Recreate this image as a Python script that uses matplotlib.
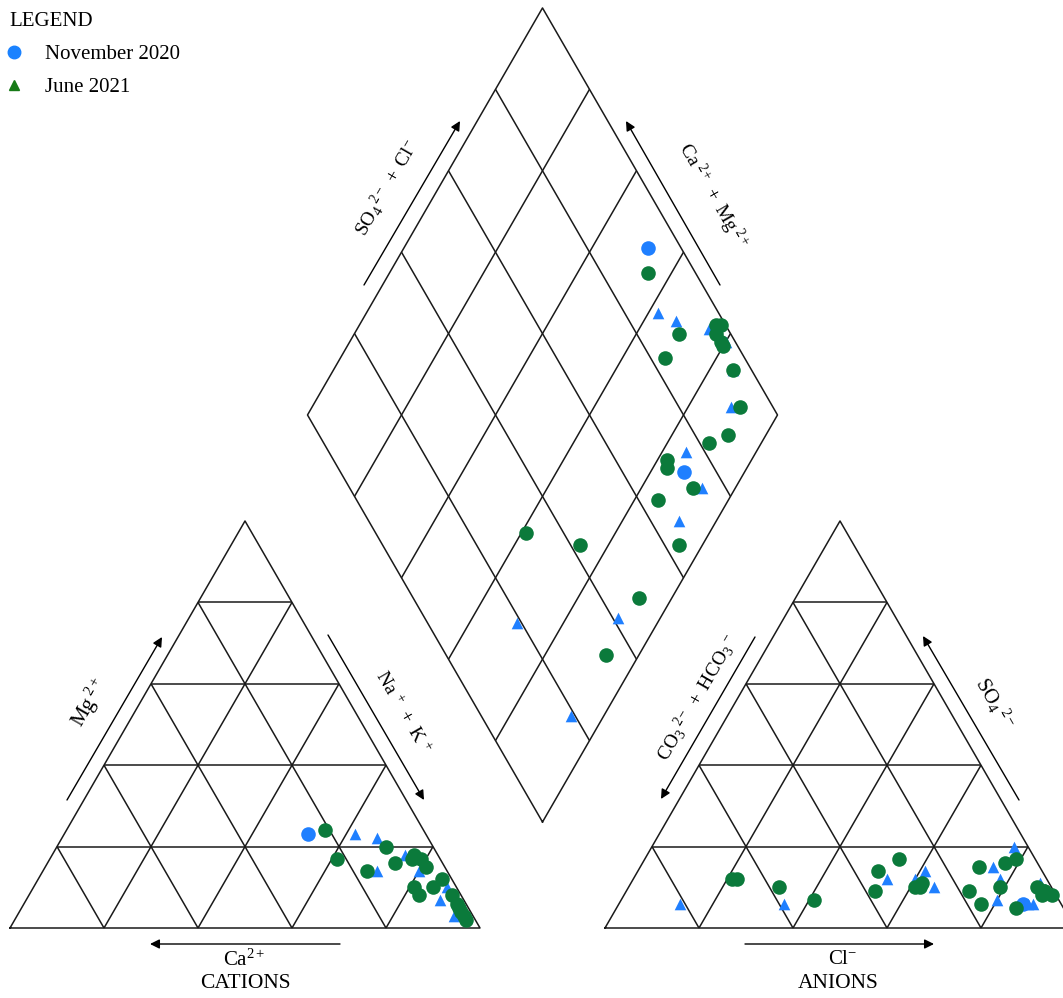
import matplotlib
matplotlib.use("Agg")
import matplotlib.pyplot as plt
from matplotlib.lines import Line2D
import numpy as np

plt.rcParams['font.family'] = ['Liberation Serif', 'DejaVu Serif']
plt.rcParams['mathtext.fontset'] = 'custom'
plt.rcParams['mathtext.rm'] = 'Liberation Serif'
plt.rcParams['mathtext.it'] = 'Liberation Serif:italic'

# ---------------- data (percent) ----------------
# Cation triangle: (Na+K %, Mg %)
cat_blue_tri_na = [62, 67, 71, 75, 80, 88, 88, 93]
cat_blue_tri_mg = [23, 22, 14, 18, 14, 10, 7, 3]
cat_blue_circ_na = [52]
cat_blue_circ_mg = [23]
cat_green_na = [55, 61, 70, 69, 74, 77, 77, 79, 81, 81, 83, 86, 85, 90, 92, 94, 95, 96, 93]
cat_green_mg = [24, 17, 20, 14, 16, 18, 17, 17, 15, 10, 8, 12, 10, 8, 6, 4, 3, 2, 5]

# Anion triangle: (Cl %, SO4 %)
an_blue_tri_cl = [13, 35, 54, 61, 65, 60, 77, 75, 78, 80, 87, 87, 88]
an_blue_tri_so4 = [6, 6, 12, 14, 10, 12, 20, 15, 12, 7, 11, 6, 6]
an_blue_circ_cl = [86]
an_blue_circ_so4 = [6]
an_green_cl = [21, 22, 32, 41, 51, 54, 53, 61, 62, 62, 72, 73, 77, 79, 77, 79, 85, 87, 89, 91, 89, 89]
an_green_so4 = [12, 12, 10, 7, 14, 17, 9, 10, 10, 11, 15, 9, 6, 10, 16, 17, 5, 10, 9, 8, 9, 8]

# Diamond: (SO4+Cl %, Ca+Mg %)
dia_blue_tri_s = [87, 90, 96, 91, 96, 76, 75, 66, 41, 19, 19, 98]
dia_blue_tri_a = [38, 33, 25, 11, 15, 15, 7, 8, 9, 30, 7, 20]
dia_blue_circ_s = [93, 73]
dia_blue_circ_a = [48, 13]
dia_green_s = [90, 89, 83, 98, 99, 97, 97, 97, 96, 93, 82, 87, 71, 70, 73, 64, 63, 32, 42, 48, 34]
dia_green_a = [45, 31, 31, 24, 23, 23, 21, 20, 15, 9, 11, 8, 18, 17, 9, 15, 5, 39, 26, 7, 7]

legend_labels = ['November 2020', 'June 2021']

# ---------------- geometry ----------------
L = 470.0
H = L * np.sqrt(3) / 2
Y0 = 928.0
XL = 10.0      # left (cation) triangle origin
XR = 605.0     # right (anion) triangle origin
DX, DY = 542.5, 822.0  # diamond bottom vertex


def cat_xy(na, mg):
    na = np.asarray(na) / 100.0
    mg = np.asarray(mg) / 100.0
    return XL + L * (na + mg / 2), Y0 - H * mg


def an_xy(cl, so4):
    cl = np.asarray(cl) / 100.0
    so4 = np.asarray(so4) / 100.0
    return XR + L * (cl + so4 / 2), Y0 - H * so4


def dia_xy(s, a):
    s = np.asarray(s) / 100.0
    a = np.asarray(a) / 100.0
    return DX + (L / 2) * (s - a), DY - H * (s + a)


fig = plt.figure(figsize=(10.63, 9.98), dpi=100)
ax = fig.add_axes([0, 0, 1, 1])
ax.set_xlim(0, 1063)
ax.set_ylim(998, 0)
ax.axis('off')

lc = '#1a1a1a'
lw = 1.1


def seg(p, q):
    ax.plot([p[0], q[0]], [p[1], q[1]], color=lc, lw=lw, solid_capstyle='butt', zorder=1)


# triangles
for f_xy in (cat_xy, an_xy):
    pts = [f_xy(0, 0), f_xy(100, 0), f_xy(0, 100), f_xy(0, 0)]
    ax.plot([p[0] for p in pts], [p[1] for p in pts], color=lc, lw=lw, zorder=1)
    for k in range(1, 5):
        f = k * 20
        seg(f_xy(0, f), f_xy(100 - f, f))
        seg(f_xy(f, 0), f_xy(f, 100 - f))
        seg(f_xy(100 - f, 0), f_xy(0, 100 - f))

# diamond
pts = [dia_xy(0, 0), dia_xy(100, 0), dia_xy(100, 100), dia_xy(0, 100), dia_xy(0, 0)]
ax.plot([p[0] for p in pts], [p[1] for p in pts], color=lc, lw=lw, zorder=1)
for k in range(1, 5):
    f = k * 20
    seg(dia_xy(f, 0), dia_xy(f, 100))
    seg(dia_xy(0, f), dia_xy(100, f))

# ---------------- points ----------------
blue = '#1f7fff'
green = '#0b7a3b'
sz_c = 110
sz_t = 70

for fxy, tri, circ, grn in (
    (cat_xy, (cat_blue_tri_na, cat_blue_tri_mg), (cat_blue_circ_na, cat_blue_circ_mg), (cat_green_na, cat_green_mg)),
    (an_xy, (an_blue_tri_cl, an_blue_tri_so4), (an_blue_circ_cl, an_blue_circ_so4), (an_green_cl, an_green_so4)),
    (dia_xy, (dia_blue_tri_s, dia_blue_tri_a), (dia_blue_circ_s, dia_blue_circ_a), (dia_green_s, dia_green_a)),
):
    x, y = fxy(*tri)
    ax.scatter(x, y, s=sz_t, marker='^', color=blue, linewidths=0, zorder=3)
    x, y = fxy(*circ)
    ax.scatter(x, y, s=sz_c, marker='o', color=blue, linewidths=0, zorder=3)
    x, y = fxy(*grn)
    ax.scatter(x, y, s=sz_c, marker='o', color=green, linewidths=0, zorder=4)

# ---------------- arrows & labels ----------------
aprops = dict(arrowstyle='-|>', color='black', lw=1.0, mutation_scale=14, shrinkA=0, shrinkB=0)


def arrow(tail, tip):
    ax.annotate('', xy=tip, xytext=tail, arrowprops=aprops, zorder=2)


fs = 15
fr = 14
arrow((364, 285), (460, 121))
ax.text(386, 188, r'$\mathrm{SO_4\,{}^{2-}\ +\ Cl^{-}}$', rotation=60, ha='center', va='center',
        rotation_mode='anchor', fontsize=fr)
arrow((720, 285), (626, 121))
ax.text(712, 196, r'$\mathrm{Ca^{\ 2+}\ +\ Mg^{\ 2+}}$', rotation=-60, ha='center', va='center',
        rotation_mode='anchor', fontsize=fr)

arrow((67, 800), (162, 637))
ax.text(90, 703, r'$\mathrm{Mg^{\ 2+}}$', rotation=60, ha='center', va='center',
        rotation_mode='anchor', fontsize=fs)
arrow((328, 635), (424, 800))
ax.text(403, 712, r'$\mathrm{Na^{\ +}\ +\ K^{\ +}}$', rotation=-60, ha='center', va='center',
        rotation_mode='anchor', fontsize=fr)

arrow((755, 637), (661, 799))
ax.text(697, 698, r'$\mathrm{CO_3\,{}^{2-}\ +\ HCO_3\,{}^{-}}$', rotation=60, ha='center', va='center',
        rotation_mode='anchor', fontsize=fr)
arrow((1019, 800), (923, 636))
ax.text(995, 703, r'$\mathrm{SO_4\,{}^{2-}}$', rotation=-60, ha='center', va='center',
        rotation_mode='anchor', fontsize=fs)

arrow((340, 944), (150, 944))
ax.text(244, 960, r'$\mathrm{Ca^{2+}}$', ha='center', va='center', fontsize=fs)
ax.text(245, 984, 'CATIONS', ha='center', va='center', fontsize=15.5)

arrow((745, 944), (934, 944))
ax.text(843, 959, r'$\mathrm{Cl^{-}}$', ha='center', va='center', fontsize=fs)
ax.text(838, 984, 'ANIONS', ha='center', va='center', fontsize=15.5)

# ---------------- legend ----------------
handles = [
    Line2D([], [], marker='o', color='#1a82ff', ls='', ms=9, label=legend_labels[0]),
    Line2D([], [], marker='^', color='#177a17', ls='', ms=7, label=legend_labels[1]),
]
leg = ax.legend(handles=handles, title='LEGEND', loc='upper left', alignment='left',
                bbox_to_anchor=(9 / 1063, 1 - 12 / 998), bbox_transform=fig.transFigure,
                frameon=False, fontsize=15, title_fontsize=15, handlelength=0.5,
                handletextpad=1.23, labelspacing=0.65, borderpad=0, borderaxespad=0)

fig.savefig('out.png', dpi=100)
